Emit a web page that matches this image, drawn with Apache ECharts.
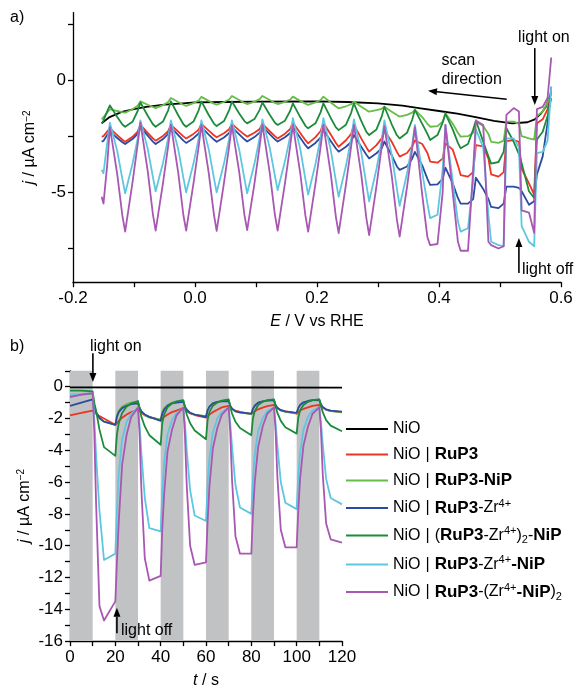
<!DOCTYPE html>
<html><head><meta charset="utf-8">
<script src="https://cdn.jsdelivr.net/npm/echarts@6/dist/echarts.min.js"></script>
<style>html,body{margin:0;padding:0;background:#fff}#c{width:579px;height:691px}</style>
</head><body><div id="c"></div>
<script>
const FONT = 'Liberation Sans, Arial, sans-serif';

// ---------- Panel a) : chopped-light LSV, potential grid (V vs RHE) ----------
const E_chop = [0.584, 0.578, 0.570,
 0.5605, 0.556, 0.5475, 0.5355, 0.531, 0.5225,
 0.5105, 0.506, 0.4975, 0.4855, 0.481, 0.4725,
 0.4605, 0.456, 0.4475, 0.4355, 0.431, 0.4225,
 0.4105, 0.406, 0.3975, 0.3855, 0.381, 0.3725,
 0.3605, 0.356, 0.3475, 0.3355, 0.331, 0.3225,
 0.3105, 0.306, 0.2975, 0.2855, 0.281, 0.2725,
 0.2605, 0.256, 0.2475, 0.2355, 0.231, 0.2225,
 0.2105, 0.206, 0.1975, 0.1855, 0.181, 0.1725,
 0.1605, 0.156, 0.1475, 0.1355, 0.131, 0.1225,
 0.1105, 0.106, 0.0975, 0.0855, 0.081, 0.0725,
 0.0605, 0.056, 0.0475, 0.0355, 0.031, 0.0225,
 0.0105, 0.006, -0.0025, -0.0145, -0.019, -0.0275,
 -0.0395, -0.044, -0.0525, -0.0645, -0.069, -0.0775,
 -0.0895, -0.094, -0.1025, -0.1145, -0.119, -0.1275,
 -0.1395, -0.144, -0.150, -0.153];

const NiO_E = [-0.153, -0.14, -0.12, -0.1, -0.08, -0.05, -0.02, 0.0, 0.05, 0.1, 0.2, 0.25, 0.3, 0.34, 0.37, 0.4, 0.43, 0.46, 0.49, 0.52, 0.545, 0.557, 0.567, 0.575, 0.582];
const NiO_j_a = [-1.93, -1.65, -1.42, -1.3, -1.2, -1.1, -1.04, -1.0, -0.98, -0.96, -0.95, -0.98, -1.04, -1.14, -1.26, -1.38, -1.5, -1.65, -1.82, -1.93, -1.88, -1.75, -1.5, -1.2, -0.7];

const RuP3_j_a = [-0.5, -1.3, -1.75,
 -1.93, -5.1, -4.6, -3.95, -2.75, -2.67,
 -2.72, -4.1, -4.3, -4.2, -3.5, -2.95,
 -2.9, -4.1, -4.3, -4.23, -3.8, -3.1,
 -2.82, -3.5, -3.68, -3.63, -3.25, -2.85,
 -2.7, -2.95, -3.25, -3.41, -3.2, -2.75,
 -2.25, -2.6, -2.9, -3.19, -3.0, -2.6,
 -2.0, -2.4, -2.68, -2.97, -2.8, -2.43,
 -1.9, -2.27, -2.54, -2.82, -2.68, -2.36,
 -1.9, -2.18, -2.39, -2.6, -2.5, -2.28,
 -1.95, -2.18, -2.35, -2.52, -2.43, -2.24,
 -1.95, -2.19, -2.37, -2.55, -2.46, -2.25,
 -1.95, -2.21, -2.4, -2.6, -2.51, -2.3,
 -2.0, -2.28, -2.49, -2.7, -2.6, -2.35,
 -2.0, -2.3, -2.53, -2.75, -2.66, -2.45,
 -2.15, -2.3, -2.5, -2.52];

const RuP3NiP_j_a = [-0.6, -1.0, -1.4,
 -1.6, -2.65, -2.6, -2.5, -1.95, -1.85,
 -1.85, -2.7, -2.8, -2.75, -2.4, -2.05,
 -1.86, -2.35, -2.5, -2.52, -2.35, -1.95,
 -1.48, -1.85, -2.05, -2.08, -1.95, -1.65,
 -1.33, -1.45, -1.55, -1.63, -1.56, -1.41,
 -1.19, -1.28, -1.34, -1.41, -1.34, -1.19,
 -0.96, -1.08, -1.17, -1.26, -1.18, -1.0,
 -0.74, -0.89, -1.0, -1.11, -1.05, -0.93,
 -0.74, -0.87, -0.97, -1.07, -1.02, -0.89,
 -0.71, -0.85, -0.96, -1.07, -1.02, -0.89,
 -0.71, -0.87, -0.98, -1.1, -1.05, -0.93,
 -0.75, -0.91, -1.03, -1.15, -1.1, -0.98,
 -0.8, -0.98, -1.12, -1.25, -1.2, -1.1,
 -0.95, -1.15, -1.3, -1.45, -1.43, -1.38,
 -1.3, -1.45, -1.65, -1.75];

const RuP3Zr_j_a = [-0.3, -1.9, -3.4,
 -4.2, -5.4, -5.55, -4.95, -4.8, -4.75,
 -4.75, -5.5, -5.7, -5.65, -5.3, -4.85,
 -4.35, -5.3, -5.5, -5.5, -5.25, -4.6,
 -3.9, -4.4, -4.65, -4.67, -4.4, -3.8,
 -3.2, -3.5, -3.85, -4.0, -3.85, -3.35,
 -2.74, -3.04, -3.26, -3.49, -3.33, -2.97,
 -2.45, -2.75, -2.97, -3.19, -3.05, -2.71,
 -2.23, -2.55, -2.8, -3.04, -2.9, -2.57,
 -2.1, -2.36, -2.55, -2.74, -2.64, -2.41,
 -2.08, -2.34, -2.54, -2.74, -2.64, -2.42,
 -2.1, -2.36, -2.56, -2.75, -2.65, -2.43,
 -2.1, -2.38, -2.59, -2.8, -2.7, -2.45,
 -2.1, -2.4, -2.63, -2.85, -2.74, -2.48,
 -2.1, -2.4, -2.63, -2.85, -2.77, -2.58,
 -2.3, -2.45, -2.7, -2.75];

const RuP3Zr2NiP_j_a = [-0.8, -1.6, -2.3,
 -2.65, -5.25, -4.95, -3.7, -3.3, -2.75,
 -2.15, -3.2, -3.65, -3.72, -3.4, -2.75,
 -1.8, -2.2, -2.85, -3.04, -2.8, -2.2,
 -1.5, -1.9, -2.45, -2.67, -2.4, -1.95,
 -1.33, -1.77, -2.35, -2.6, -2.46, -1.97,
 -1.19, -1.63, -2.2, -2.45, -2.31, -1.82,
 -1.04, -1.46, -1.99, -2.23, -2.11, -1.69,
 -1.04, -1.43, -1.93, -2.15, -2.04, -1.65,
 -1.04, -1.38, -1.81, -2.0, -1.9, -1.55,
 -1.0, -1.33, -1.74, -1.93, -1.83, -1.49,
 -0.96, -1.34, -1.83, -2.05, -1.94, -1.56,
 -0.95, -1.35, -1.85, -2.08, -1.97, -1.57,
 -0.95, -1.35, -1.85, -2.08, -1.97, -1.59,
 -1.0, -1.38, -1.86, -2.08, -1.98, -1.65,
 -1.13, -1.4, -1.8, -1.93];

const RuP3ZrNiP_j_a = [-0.3, -2.7, -3.2,
 -3.25, -7.4, -7.2, -6.5, -3.0, -2.6,
 -2.6, -7.4, -7.35, -7.2, -6.0, -3.0,
 -2.2, -4.5, -6.6, -6.75, -6.3, -4.5,
 -2.0, -4.0, -6.0, -6.15, -5.5, -4.1,
 -2.0, -2.9, -4.16, -5.6, -4.84, -3.32,
 -1.8, -2.7, -3.96, -5.4, -4.67, -3.21,
 -1.75, -2.61, -3.82, -5.2, -4.5, -3.1,
 -1.7, -2.55, -3.74, -5.1, -4.42, -3.06,
 -1.7, -2.5, -3.62, -4.9, -4.27, -3.01,
 -1.75, -2.57, -3.72, -5.04, -4.39, -3.1,
 -1.8, -2.6, -3.72, -5.0, -4.36, -3.08,
 -1.8, -2.6, -3.72, -5.0, -4.36, -3.08,
 -1.8, -2.59, -3.69, -4.95, -4.32, -3.06,
 -1.8, -2.61, -3.74, -5.04, -4.41, -3.16,
 -1.9, -2.8, -4.15, -4.0];

const RuP3ZrNiP2_j_a = [1.0, -0.8, -1.2,
 -1.3, -6.8, -5.9, -5.8, -1.4, -1.25,
 -1.55, -7.4, -7.5, -7.35, -7.2, -2.0,
 -1.8, -4.0, -7.6, -7.6, -7.2, -5.0,
 -2.0, -5.0, -7.3, -7.35, -7.0, -5.1,
 -2.1, -3.07, -4.78, -6.97, -6.23, -4.26,
 -2.05, -2.98, -4.72, -6.9, -6.17, -4.2,
 -2.0, -2.96, -4.65, -6.82, -6.1, -4.17,
 -2.0, -2.95, -4.61, -6.75, -6.04, -4.14,
 -2.0, -2.94, -4.59, -6.7, -6.0, -4.12,
 -1.98, -2.93, -4.6, -6.68, -6.0, -4.1,
 -2.02, -2.95, -4.58, -6.72, -5.98, -4.13,
 -2.0, -2.96, -4.6, -6.7, -6.02, -4.12,
 -2.0, -2.94, -4.59, -6.7, -5.98, -4.06,
 -1.9, -2.87, -4.57, -6.75, -6.05, -4.19,
 -2.1, -3.8, -5.5, -5.2];

// ---------- Panel b) : chopped-light chronoamperometry ----------
const t_chop = [0, 5,
 10, 10.7, 11.5, 13, 15, 20, 20.7, 21.5, 23, 25, 27,
 30, 30.7, 31.5, 33, 35, 40, 40.7, 41.5, 43, 45, 47,
 50, 50.7, 51.5, 53, 55, 60, 60.7, 61.5, 63, 65, 67,
 70, 70.7, 71.5, 73, 75, 80, 80.7, 81.5, 83, 85, 87,
 90, 90.7, 91.5, 93, 95, 100, 100.7, 101.5, 103, 105, 107,
 110, 110.7, 111.5, 113, 115, 120];

const NiO_t = [0, 40, 80, 120];
const NiO_j_b = [-0.04, -0.05, -0.05, -0.06];

const RuP3_j_b = [-1.8, -1.65,
 -1.5, -1.6, -1.7, -1.85, -2.0, -2.4, -2.3, -2.15, -1.95, -1.75, -1.6,
 -1.45, -1.55, -1.65, -1.8, -1.9, -2.1, -2.0, -1.9, -1.75, -1.6, -1.5,
 -1.35, -1.45, -1.55, -1.68, -1.78, -1.95, -1.85, -1.75, -1.6, -1.45, -1.3,
 -1.2, -1.3, -1.4, -1.5, -1.58, -1.72, -1.62, -1.55, -1.42, -1.32, -1.22,
 -1.15, -1.28, -1.38, -1.48, -1.55, -1.7, -1.6, -1.5, -1.4, -1.3, -1.2,
 -1.15, -1.28, -1.37, -1.45, -1.52, -1.62];

const RuP3NiP_j_b = [-0.6, -0.5,
 -0.45, -1.2, -1.6, -2.0, -2.2, -2.4, -1.8, -1.5, -1.25, -1.1, -1.0,
 -0.95, -1.3, -1.55, -1.8, -1.95, -2.05, -1.6, -1.35, -1.15, -1.0, -0.95,
 -0.9, -1.25, -1.45, -1.65, -1.75, -1.85, -1.45, -1.25, -1.05, -0.95, -0.9,
 -0.85, -1.2, -1.4, -1.55, -1.63, -1.72, -1.4, -1.2, -1.02, -0.92, -0.87,
 -0.85, -1.15, -1.35, -1.5, -1.58, -1.67, -1.35, -1.17, -1.0, -0.9, -0.86,
 -0.85, -1.12, -1.3, -1.45, -1.53, -1.6];

const RuP3Zr_j_b = [-1.2, -1.0,
 -0.8, -1.3, -1.6, -1.95, -2.2, -2.4, -1.9, -1.6, -1.35, -1.2, -1.1,
 -1.05, -1.35, -1.55, -1.75, -1.9, -2.15, -1.7, -1.45, -1.2, -1.05, -1.0,
 -0.95, -1.25, -1.45, -1.65, -1.75, -1.9, -1.5, -1.25, -1.05, -0.95, -0.92,
 -0.9, -1.2, -1.38, -1.55, -1.62, -1.7, -1.4, -1.2, -1.0, -0.92, -0.88,
 -0.85, -1.15, -1.32, -1.48, -1.55, -1.65, -1.35, -1.15, -0.98, -0.9, -0.85,
 -0.82, -1.1, -1.28, -1.42, -1.5, -1.57];

const RuP3Zr2NiP_j_b = [-0.25, -0.25,
 -0.3, -1.0, -1.5, -2.7, -3.8, -4.35, -3.0, -2.3, -1.65, -1.25, -1.05,
 -0.9, -1.4, -1.9, -2.5, -3.05, -3.65, -2.3, -1.75, -1.3, -1.05, -0.92,
 -0.85, -1.3, -1.75, -2.3, -2.75, -3.3, -2.1, -1.6, -1.2, -1.0, -0.88,
 -0.8, -1.25, -1.7, -2.2, -2.6, -3.05, -2.0, -1.55, -1.15, -0.95, -0.85,
 -0.8, -1.25, -1.65, -2.15, -2.55, -2.95, -1.95, -1.5, -1.15, -0.95, -0.85,
 -0.8, -1.2, -1.6, -2.1, -2.45, -2.8];

const RuP3ZrNiP_j_b = [-0.5, -0.45,
 -0.4, -2.0, -4.3, -7.8, -10.9, -10.5, -7.8, -5.5, -3.3, -2.2, -1.7,
 -1.35, -2.4, -4.2, -7.0, -8.9, -9.1, -6.6, -4.8, -3.0, -2.1, -1.65,
 -1.35, -2.3, -4.0, -6.5, -8.1, -8.45, -6.1, -4.5, -2.9, -2.0, -1.6,
 -1.3, -2.3, -3.8, -6.2, -7.6, -8.0, -5.8, -4.3, -2.8, -2.0, -1.55,
 -1.3, -2.25, -3.7, -6.0, -7.3, -7.7, -5.6, -4.2, -2.7, -1.9, -1.5,
 -1.3, -2.2, -3.6, -5.8, -7.0, -7.4];

const RuP3ZrNiP2_j_b = [-0.65, -0.5,
 -0.4, -2.8, -7.3, -13.8, -14.7, -13.5, -11.0, -8.5, -4.9, -3.0, -1.9,
 -1.3, -3.0, -6.5, -10.8, -12.2, -11.9, -9.0, -6.8, -4.1, -2.7, -1.8,
 -1.3, -3.0, -6.2, -10.0, -11.2, -11.05, -8.5, -6.3, -3.9, -2.6, -1.75,
 -1.3, -2.9, -5.9, -9.4, -10.5, -10.5, -8.0, -6.0, -3.8, -2.5, -1.7,
 -1.3, -2.8, -5.7, -9.0, -10.1, -10.1, -7.8, -5.8, -3.7, -2.5, -1.7,
 -1.3, -2.7, -5.5, -8.6, -9.6, -9.8];

// dark (light off) intervals in panel b, s
const darkIntervals = [[0, 10], [20, 30], [40, 50], [60, 70], [80, 90], [100, 110]];

// axis tick values
const aTicksX = [-0.2, -0.1, 0, 0.1, 0.2, 0.3, 0.4, 0.5, 0.6];
const aLabelsX = [-0.2, 0, 0.2, 0.4, 0.6];
const aTicksY = [-7.5, -5, -2.5, 0, 2.5];
const aLabelsY = [-5, 0];
const bTicksX = [0, 10, 20, 30, 40, 50, 60, 70, 80, 90, 100, 110, 120];
const bLabelsX = [0, 20, 40, 60, 80, 100, 120];
const bTicksY = [-16, -15, -14, -13, -12, -11, -10, -9, -8, -7, -6, -5, -4, -3, -2, -1, 0, 1];
const bLabelsY = [-16, -14, -12, -10, -8, -6, -4, -2, 0];

const names = ['NiO', 'RuP3', 'RuP3-NiP', 'RuP3-Zr', '(RuP3-Zr)2-NiP', 'RuP3-Zr-NiP', 'RuP3-(Zr-NiP)2'];
const colors = ['#000000', '#ee3424', '#66bd47', '#2c4ba0', '#1d8b3c', '#5ec7e0', '#a857b2'];
const legendText = {
  'NiO': '{n|NiO}',
  'RuP3': '{n|NiO}{s||}{b|RuP3}',
  'RuP3-NiP': '{n|NiO}{s||}{b|RuP3-NiP}',
  'RuP3-Zr': '{n|NiO}{s||}{b|RuP3}{n|-Zr}{sup|4+}',
  '(RuP3-Zr)2-NiP': '{n|NiO}{s||}{n|(}{b|RuP3}{n|-Zr}{sup|4+}{n|)}{sub|2}{n|-}{b|NiP}',
  'RuP3-Zr-NiP': '{n|NiO}{s||}{b|RuP3}{n|-Zr}{sup|4+}{b|-NiP}',
  'RuP3-(Zr-NiP)2': '{n|NiO}{s||}{b|RuP3}{n|-(Zr}{sup|4+}{b|-NiP}{n|)}{sub|2}'
};

const zip = (xs, ys) => xs.map((x, i) => [x, ys[i]]);
const panelA = [
  zip(NiO_E, NiO_j_a), zip(E_chop, RuP3_j_a), zip(E_chop, RuP3NiP_j_a), zip(E_chop, RuP3Zr_j_a),
  zip(E_chop, RuP3Zr2NiP_j_a), zip(E_chop, RuP3ZrNiP_j_a), zip(E_chop, RuP3ZrNiP2_j_a)
];
const panelB = [
  zip(NiO_t, NiO_j_b), zip(t_chop, RuP3_j_b), zip(t_chop, RuP3NiP_j_b), zip(t_chop, RuP3Zr_j_b),
  zip(t_chop, RuP3Zr2NiP_j_b), zip(t_chop, RuP3ZrNiP_j_b), zip(t_chop, RuP3ZrNiP2_j_b)
];

const txt = {fontFamily: FONT, color: '#000', fontSize: 16};
const tickTxt = {fontFamily: FONT, color: '#000', fontSize: 17};
const nameRich = {
  i: {fontFamily: FONT, fontSize: 16, fontStyle: 'italic', color: '#000'},
  r: {fontFamily: FONT, fontSize: 16, color: '#000'},
  sup: {fontFamily: FONT, fontSize: 10, color: '#000', verticalAlign: 'top', lineHeight: 10, padding: [0, 0, 8, 0]}
};

function xAxisCfg(grid, min, max, ticks, labels, name, fmt) {
  return {
    type: 'value', gridIndex: grid, min: min, max: max,
    axisLine: {show: true, onZero: false, lineStyle: {color: '#000', width: 1.3}},
    axisTick: {show: true, inside: false, length: 5, customValues: ticks, lineStyle: {color: '#000', width: 1.3}},
    axisLabel: Object.assign({customValues: labels, margin: 8, formatter: fmt}, tickTxt),
    splitLine: {show: false},
    name: name, nameLocation: 'middle', nameGap: 31,
    nameTextStyle: Object.assign({rich: nameRich}, txt)
  };
}
function yAxisCfg(grid, min, max, ticks, labels, name) {
  return {
    type: 'value', gridIndex: grid, min: min, max: max,
    axisLine: {show: true, onZero: false, lineStyle: {color: '#000', width: 1.3}},
    axisTick: {show: true, inside: false, length: 5, customValues: ticks, lineStyle: {color: '#000', width: 1.3}},
    axisLabel: Object.assign({customValues: labels, margin: 7}, tickTxt),
    splitLine: {show: false},
    name: name, nameLocation: 'middle', nameGap: 29, nameRotate: 90,
    nameTextStyle: Object.assign({rich: nameRich}, txt)
  };
}

const series = [];
series.push({
  name: '_dark', type: 'line', xAxisIndex: 1, yAxisIndex: 1, data: [[0, 0]],
  showSymbol: false, lineStyle: {opacity: 0}, silent: true, z: 1,
  markArea: {silent: true, itemStyle: {color: '#c1c2c4'},
    data: darkIntervals.map(d => [{xAxis: d[0]}, {xAxis: d[1]}])}
});
names.forEach((nm, i) => {
  series.push({name: nm, type: 'line', xAxisIndex: 0, yAxisIndex: 0, data: panelA[i],
    showSymbol: false, color: colors[i], lineStyle: {width: 1.8, color: colors[i], join: 'round'}, z: 2 + i});
  series.push({name: nm, type: 'line', xAxisIndex: 1, yAxisIndex: 1, data: panelB[i],
    showSymbol: false, color: colors[i], lineStyle: {width: 1.8, color: colors[i], join: 'round'}, z: 2 + i});
});

const chart = echarts.init(document.getElementById('c'), null, {renderer: 'canvas'});
chart.setOption({
  animation: false,
  backgroundColor: '#fff',
  grid: [
    {left: 73, top: 12.6, width: 488, height: 269.6},
    {left: 70, top: 370.8, width: 272, height: 270.3}
  ],
  xAxis: [
    xAxisCfg(0, -0.2, 0.6, aTicksX, aLabelsX, '{i|E}{r| / V vs RHE}', v => Number(v).toFixed(1)),
    xAxisCfg(1, 0, 120, bTicksX, bLabelsX, '{i|t}{r| / s}', v => String(Math.round(v)))
  ],
  yAxis: [
    yAxisCfg(0, -9, 3, aTicksY, aLabelsY, '{i|j}{r| / µA cm}{sup|−2}'),
    yAxisCfg(1, -16, 1, bTicksY, bLabelsY, '{i|j}{r| / µA cm}{sup|−2}')
  ],
  legend: {
    data: names, orient: 'vertical', left: 341, top: 416,
    itemWidth: 42, itemHeight: 2, itemGap: 9, icon: 'rect',
    formatter: nm => legendText[nm],
    textStyle: {fontFamily: FONT, fontSize: 16, color: '#000',
      rich: {
        n: {fontFamily: FONT, fontSize: 16, color: '#000', lineHeight: 20},
        b: {fontFamily: FONT, fontSize: 17, color: '#000', fontWeight: 'bold', lineHeight: 20},
        s: {fontFamily: FONT, fontSize: 16, color: '#000', lineHeight: 20, padding: [0, 5, 0, 5]},
        sup: {fontFamily: FONT, fontSize: 11, color: '#000', verticalAlign: 'top', lineHeight: 10},
        sub: {fontFamily: FONT, fontSize: 11, color: '#000', verticalAlign: 'bottom', lineHeight: 10}
      }}
  },
  series: series
});

// ---------- annotations (positions given in data coordinates) ----------
const annotA = {
  lightOnText: [0.572, 1.87], lightOnArrow: [[0.557, 1.42], [0.557, -1.11]],
  scanText: [0.404, 0.85], dirText: [0.404, 0.04], scanArrow: [[0.511, -0.86], [0.382, -0.48]],
  lightOffText: [0.536, -8.46], lightOffArrow: [[0.531, -8.59], [0.531, -7.03]]
};
const annotB = {
  lightOnText: [8.8, 2.5], lightOnArrow: [[10.1, 2.1], [10.1, 0.3]],
  lightOffText: [22.5, -15.37], lightOffArrow: [[20.7, -15.5], [20.7, -13.9]]
};
const px = (g, p) => chart.convertToPixel({gridIndex: g}, p);
function arrow(p0, p1) {
  const dx = p1[0] - p0[0], dy = p1[1] - p0[1];
  const L = Math.sqrt(dx * dx + dy * dy), ux = dx / L, uy = dy / L;
  const hl = 9, hw = 3.5;
  const bx = p1[0] - ux * hl, by = p1[1] - uy * hl;
  return [
    {type: 'line', shape: {x1: p0[0], y1: p0[1], x2: bx, y2: by}, style: {stroke: '#000', lineWidth: 1.6}, silent: true, z: 50},
    {type: 'polygon', shape: {points: [[p1[0], p1[1]], [bx - uy * hw, by + ux * hw], [bx + uy * hw, by - ux * hw]]},
      style: {fill: '#000'}, silent: true, z: 50}
  ];
}
function label(p, text, align) {
  return {type: 'text', x: p[0], y: p[1], silent: true, z: 50,
    style: {text: text, fill: '#000', font: '16px ' + FONT, align: align || 'left', verticalAlign: 'middle'}};
}
const g = [];
g.push(label([10, 18], 'a)'));
g.push(label([10, 347], 'b)'));
g.push(label(px(0, annotA.lightOnText), 'light on', 'center'));
g.push(...arrow(px(0, annotA.lightOnArrow[0]), px(0, annotA.lightOnArrow[1])));
g.push(label(px(0, annotA.scanText), 'scan'));
g.push(label(px(0, annotA.dirText), 'direction'));
g.push(...arrow(px(0, annotA.scanArrow[0]), px(0, annotA.scanArrow[1])));
g.push(label(px(0, annotA.lightOffText), 'light off'));
g.push(...arrow(px(0, annotA.lightOffArrow[0]), px(0, annotA.lightOffArrow[1])));
g.push(label(px(1, annotB.lightOnText), 'light on'));
g.push(...arrow(px(1, annotB.lightOnArrow[0]), px(1, annotB.lightOnArrow[1])));
g.push(label(px(1, annotB.lightOffText), 'light off'));
g.push(...arrow(px(1, annotB.lightOffArrow[0]), px(1, annotB.lightOffArrow[1])));
chart.setOption({graphic: g});
</script>
</body></html>
